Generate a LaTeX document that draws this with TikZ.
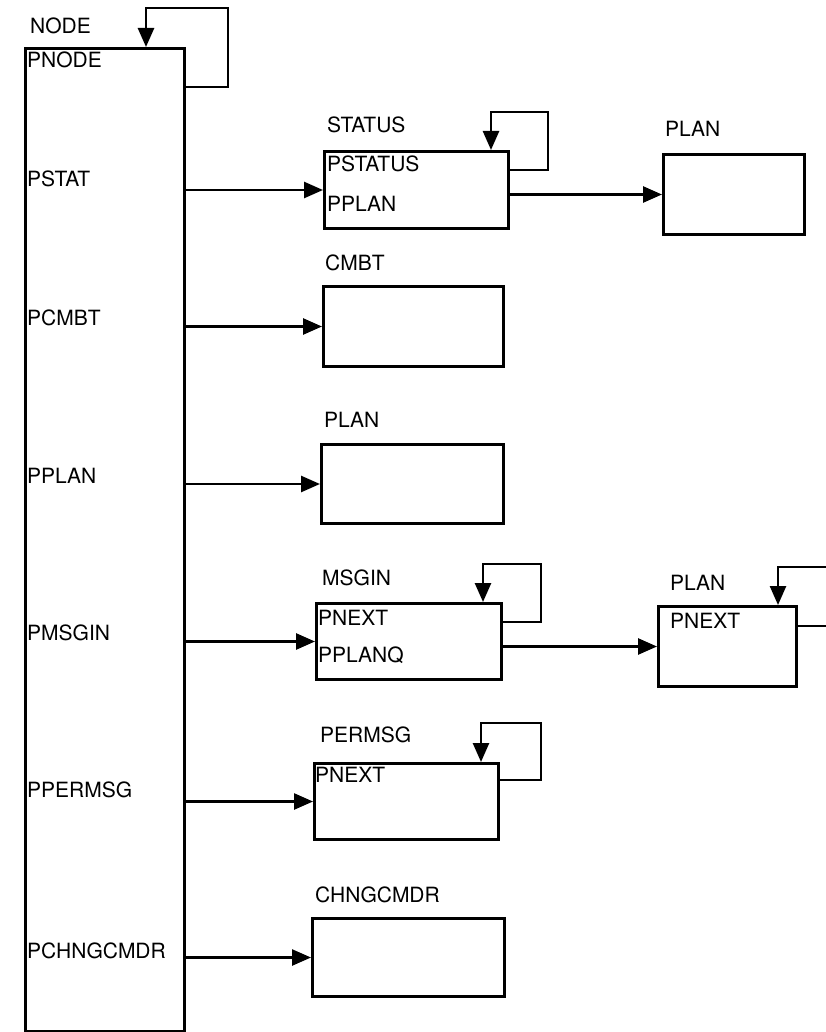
\documentclass[tikz,border=0pt]{standalone}
\usepackage{fontspec}
\setmainfont{TeX Gyre Heros}
\usetikzlibrary{arrows.meta,positioning,calc}

\begin{document}
\begin{tikzpicture}[x=1pt, y=-1pt,
    box/.style={draw, line width=3pt, anchor=north west, inner sep=0pt},
    lbl/.style={font=\fontsize{21}{25}\selectfont, inner sep=0pt, anchor=base west},
    ptr/.style={line width=2.6pt, -{Triangle[length=19pt,width=16pt]}}]
  \clip (0,0) rectangle (826,1032);

  % Record NODE
  \node[box, minimum width=159pt, minimum height=983pt] (nodebox) at (24,47) {};
  \node[lbl] (t-node) at (30,34) {NODE};
  \foreach \lab/\y in {PNODE/68, PSTAT/187, PCMBT/325, PPLAN/483,
                       PMSGIN/640, PPERMSG/797, PCHNGCMDR/958} {
    \node[lbl] (f-\lab) at (27,\y) {\lab};
  }

  % Pointed-to records
  \node[box, minimum width=184pt, minimum height=77pt] (status) at (323,150) {};
  \node[box, minimum width=141pt, minimum height=80pt] (plana)  at (662,153) {};
  \node[box, minimum width=180pt, minimum height=80pt] (cmbt)   at (322,285) {};
  \node[box, minimum width=182pt, minimum height=79pt] (planm)  at (320,443) {};
  \node[box, minimum width=185pt, minimum height=76pt] (msgin)  at (315,602) {};
  \node[box, minimum width=138pt, minimum height=80pt] (planb)  at (657,605) {};
  \node[box, minimum width=184pt, minimum height=76pt] (permsg) at (313,762) {};
  \node[box, minimum width=192pt, minimum height=78pt] (chng)   at (311,917) {};

  % Record titles
  \node[lbl] (t-status) at (327,133) {STATUS};
  \node[lbl] (t-plana)  at (665,137) {PLAN};
  \node[lbl] (t-cmbt)   at (325,270) {CMBT};
  \node[lbl] (t-planm)  at (324,427) {PLAN};
  \node[lbl] (t-msgin)  at (322,585) {MSGIN};
  \node[lbl] (t-planb)  at (670,590) {PLAN};
  \node[lbl] (t-permsg) at (320,742) {PERMSG};
  \node[lbl] (t-chng)   at (315,902) {CHNGCMDR};

  % Fields
  \node[lbl] (f-pstatus) at (327,172) {PSTATUS};
  \node[lbl] (f-spplan)  at (327,212) {PPLAN};
  \node[lbl] (f-mpnext)  at (318,625) {PNEXT};
  \node[lbl] (f-pplanq)  at (318,662) {PPLANQ};
  \node[lbl] (f-bpnext)  at (670,628) {PNEXT};
  \node[lbl] (f-ppnext)  at (315,782) {PNEXT};

  % Pointers out of NODE
  \foreach \tgt in {status, cmbt, planm, msgin, permsg, chng}
    \draw[ptr] (nodebox.east |- \tgt.west) -- (\tgt.west);
  \draw[ptr] (status.east |- plana.west) -- (plana.west);
  \draw[ptr] (msgin.east |- planb.west) -- (planb.west);

  % Self pointers
  \foreach \b/\dy/\dx/\up/\ax in {nodebox/40/42/39/40, status/20/38/38/19,
      msgin/20/38/38/20, permsg/18/41/39/19, planb/21/50/38/20}
    \draw[ptr] ($(\b.north east)+(0,\dy)$) -- ++(\dx,0)
      |- ($(\b.north east)+(-\ax,-\up)$) -- ($(\b.north east)+(-\ax,0)$);
\end{tikzpicture}
\end{document}
